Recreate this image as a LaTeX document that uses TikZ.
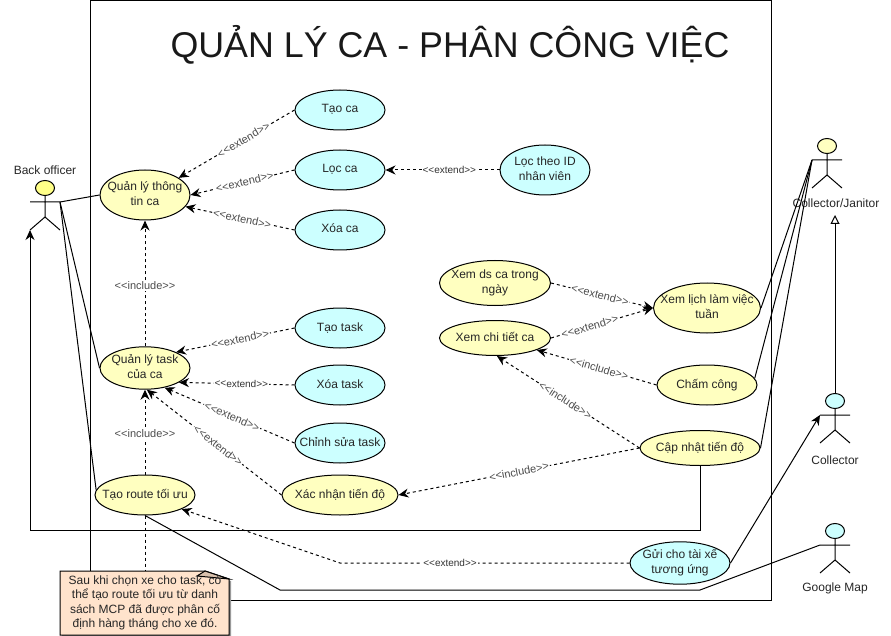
\documentclass[tikz,border=0pt]{standalone}
\usepackage{fontspec}
\setmainfont{Liberation Sans}
\usetikzlibrary{shapes.geometric}
\usetikzlibrary{arrows.meta}
\definecolor{ucyellow}{HTML}{FFFFC0}
\definecolor{uccyan}{HTML}{CCFFFF}
\definecolor{headyellow}{HTML}{FFFF88}
\definecolor{notecolor}{HTML}{FFE3CC}
\newcommand{\uctext}[1]{\makebox[0pt]{\begin{tabular}{@{}c@{}}#1\end{tabular}}}
\newcommand{\extlbl}{<{}<extend>{}>}
\newcommand{\inclbl}{<{}<include>{}>}
\tikzset{
  uc/.style n args={3}{ellipse, draw, line width=1pt, inner sep=0pt, minimum width=#1, minimum height=#2,
    fill=#3, font=\fontsize{12}{15}\selectfont, text=black!85},
  dep/.style={line width=1pt, dash pattern=on 3pt off 3pt, -{Stealth[length=10pt,width=9pt]}},
  assoc/.style={line width=1pt},
  lbl/.style={fill=white, inner sep=1pt, font=\fontsize{10}{12}\selectfont, text=black!80},
  lblbig/.style={lbl, font=\fontsize{11}{13}\selectfont, text=black!70},
  actorlbl/.style={font=\fontsize{12}{14}\selectfont, text=black!85},
  pics/actor/.style={code={
    \draw[line width=1pt, fill=#1] (0,-14) ellipse [x radius=9.5, y radius=7.5];
    \draw[line width=1pt] (0,-6.5) -- (0,15) (-15,28) -- (0,15) -- (15,28) (-15,0) -- (15,0);
    \coordinate (-left) at (-15,0);
    \coordinate (-right) at (15,0);
    \coordinate (-foot) at (-15,28);
    \coordinate (-top) at (0,-21.5);
  }}
}
\begin{document}
\begin{tikzpicture}[x=1pt,y=-1pt]
    \useasboundingbox (0,0) rectangle (891,636);
    \draw[line width=1pt] (90,0.5) rectangle (771,600);
    \node[font=\fontsize{35.8}{43}\selectfont, text=black!90] (title) at (450,45) {QUẢN LÝ CA - PHÂN CÔNG VIỆC};

    \node[uc={90}{50}{ucyellow}] (qlca) at (145,195) {\uctext{Quản lý thông\\tin ca}};
    \node[uc={90}{40}{ucyellow}] (qltask) at (145,368) {\uctext{Quản lý task\\của ca}};
    \node[uc={100}{40}{ucyellow}] (route) at (145,495) {\uctext{Tạo route tối ưu}};
    \node[uc={90}{40}{uccyan}] (taoca) at (340,110) {\uctext{Tạo ca}};
    \node[uc={90}{40}{uccyan}] (locca) at (340,170) {\uctext{Lọc ca}};
    \node[uc={90}{40}{uccyan}] (xoaca) at (340,230) {\uctext{Xóa ca}};
    \node[uc={90}{50}{uccyan}] (locid) at (545,170) {\uctext{Lọc theo ID\\nhân viên}};
    \node[uc={90}{40}{uccyan}] (taotask) at (340,328) {\uctext{Tạo task}};
    \node[uc={90}{40}{uccyan}] (xoatask) at (340,385) {\uctext{Xóa task}};
    \node[uc={90}{40}{uccyan}] (suatask) at (340,443) {\uctext{Chỉnh sửa task}};
    \node[uc={116}{40}{ucyellow}] (xacnhan) at (340,495) {\uctext{Xác nhận tiến độ}};
    \node[uc={111}{45}{ucyellow}] (xemds) at (495,283) {\uctext{Xem ds ca trong\\ngày}};
    \node[uc={111}{35}{ucyellow}] (chitiet) at (495,338) {\uctext{Xem chi tiết ca}};
    \node[uc={107}{50}{ucyellow}] (lich) at (707,308) {\uctext{Xem lịch làm việc\\tuần}};
    \node[uc={100}{40}{ucyellow}] (chamcong) at (707,385) {\uctext{Chấm công}};
    \node[uc={120}{35}{ucyellow}] (capnhat) at (700,448) {\uctext{Cập nhật tiến độ}};
    \node[uc={100}{40}{uccyan}] (guixe) at (680,563) {\uctext{Gửi cho tài xế\\tương ứng}};

    \pic (back) at (45,202) {actor=headyellow};
    \pic (janitor) at (827,160) {actor=ucyellow};
    \pic (collector) at (835,415) {actor=uccyan};
    \pic (gmap) at (835,545) {actor=uccyan};
    \node[actorlbl] (backlbl) at (45,170) {Back officer};
    \node[actorlbl] (janitorlbl) at (836,203) {Collector/Janitor};
    \node[actorlbl] (collectorlbl) at (835,460) {Collector};
    \node[actorlbl] (gmaplbl) at (835,588) {Google Map};

    \draw[assoc] (back-right) -- (qlca.west);
    \draw[assoc] (back-right) -- (qltask.west);
    \draw[assoc] (back-right) -- (route.174);
    \draw[assoc] (janitor-left) -- (lich.east);
    \draw[assoc] (janitor-left) -- (chamcong.8);
    \draw[assoc] (janitor-left) -- (capnhat.east);
    \draw[assoc] (route.south) -- (280,590) -- (700,590) -- (gmap-left);
    \draw[assoc, -{Stealth[length=10pt,width=9pt]}] (capnhat.south) -- (700,530) -- (30,530) -- (back-foot);
    \draw[assoc, -{Stealth[length=10pt,width=9pt]}] (guixe.east) -- (collector-left);
    \draw[assoc, -{Triangle[open,fill=white,length=9pt,width=9pt]}] (collector-top) -- (835,215);

    \draw[dep] (taoca.west) -- node[lblbig,sloped,pos=.44] (l1) {\extlbl} (qlca.27);
    \draw[dep] (locca.west) -- node[lblbig,sloped,pos=.48] (l2) {\extlbl} (qlca.east);
    \draw[dep] (xoaca.west) -- node[lblbig,sloped,pos=.48] (l3) {\extlbl} (qlca.-16);
    \draw[dep] (locid.west) -- node[lbl,pos=.44] (l4) {\extlbl} (locca.east);
    \draw[dep] (qltask.north) -- node[lblbig,pos=.48] (l5) {\inclbl} (qlca.south);
    \draw[dep] (taotask.west) -- node[lblbig,sloped,pos=.46] (l6) {\extlbl} (qltask.27);
    \draw[dep] (xoatask.west) -- node[lbl,sloped,pos=.46] (l7) {\extlbl} (qltask.-23);
    \draw[dep] (suatask.west) -- node[lblbig,sloped,pos=.48] (l8) {\extlbl} (qltask.-45);
    \draw[dep] (xacnhan.west) -- node[lblbig,sloped,pos=.47] (l9) {\extlbl} (qltask.-85);
    \draw[dep] (route.north) -- node[lblbig,pos=.48] (l10) {\inclbl} (qltask.south);
    \draw[dep] (guixe.west) -- node[lbl,pos=.62] (l11) {\extlbl} (340,563) -- (route.-21);
    \draw[dep] (xemds.east) -- node[lblbig,sloped,pos=.48] (l12) {\extlbl} (lich.west);
    \draw[dep] (chitiet.east) -- node[lblbig,sloped,pos=.38] (l13) {\extlbl} (lich.west);
    \draw[dep] (chamcong.west) -- node[lblbig,sloped,pos=.48] (l14) {\inclbl} (chitiet.-16);
    \draw[dep] (capnhat.west) -- node[lblbig,sloped,pos=.52] (l15) {\inclbl} (chitiet.-84);
    \draw[dep] (capnhat.west) -- node[lblbig,sloped,pos=.5] (l16) {\inclbl} (xacnhan.east);

    \draw[line width=1pt, dash pattern=on 3pt off 3pt] (route.south) -- (145,571);
    \fill[black!40] (62,573) -- (206,573) -- (231,581) -- (231,637) -- (62,637) -- cycle;
    \draw[line width=1pt, fill=notecolor] (60,571) -- (205,571) -- (229,579) -- (229,635) -- (60,635) -- cycle;
    \draw[line width=1pt, fill=notecolor!85!black] (205,571) -- (229,579) -- (197,576) -- cycle;
    \node[align=center, font=\fontsize{12}{14.5}\selectfont, text=black!85, inner sep=0pt] (note) at (145,603)
      {Sau khi chọn xe cho task, có\\thể tạo route tối ưu từ danh\\sách MCP đã được phân cố\\định hàng tháng cho xe đó.};
\end{tikzpicture}
\end{document}
